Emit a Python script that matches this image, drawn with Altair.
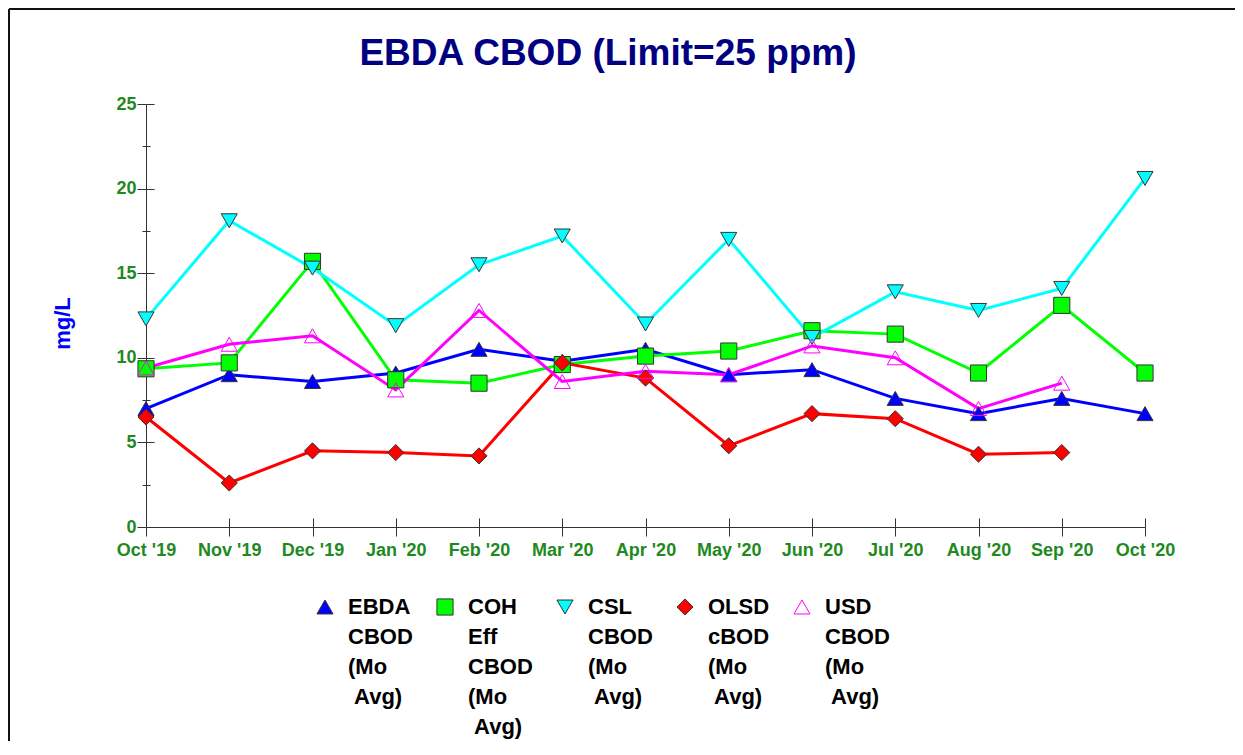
import altair as alt
import pandas as pd

# ---------------- data ----------------
months = ["Oct '19", "Nov '19", "Dec '19", "Jan '20", "Feb '20", "Mar '20", "Apr '20",
          "May '20", "Jun '20", "Jul '20", "Aug '20", "Sep '20", "Oct '20"]

short_names = ["EBDA", "COH", "CSL", "OLSD", "USD"]
IND = "\u200b\u00a0"   # small indent kept before the last label line
series = ["EBDA|CBOD|(Mo|" + IND + "Avg)",
          "COH|Eff|CBOD|(Mo|" + IND + "Avg)",
          "CSL|CBOD|(Mo|" + IND + "Avg)",
          "OLSD|cBOD|(Mo|" + IND + "Avg)",
          "USD|CBOD|(Mo|" + IND + "Avg)"]

ebda = [7.0, 9.0, 8.6, 9.1, 10.5, 9.8, 10.5, 9.0, 9.3, 7.6, 6.7, 7.6, 6.7]
coh = [9.35, 9.7, 15.7, 8.7, 8.5, 9.6, 10.1, 10.4, 11.6, 11.4, 9.1, 13.1, 9.1]
csl = [12.3, 18.1, 15.3, 11.9, 15.5, 17.2, 12.0, 17.0, 11.2, 13.9, 12.8, 14.1, 20.6]
olsd = [6.5, 2.6, 4.5, 4.4, 4.2, 9.7, 8.8, 4.8, 6.7, 6.4, 4.3, 4.4, None]
usd = [9.4, 10.8, 11.3, 8.1, 12.8, 8.6, 9.2, 9.0, 10.7, 10.0, 7.0, 8.5, None]

line_colors = ["#0000FF", "#00FF00", "#00FFFF", "#FF0000", "#FF00FF"]
fill_colors = ["#0000FF", "#00FF00", "#00FFFF", "#FF0000", "transparent"]
stroke_colors = ["#333333", "#333333", "#333333", "#333333", "#FF00FF"]
shapes = ["triangle-up", "square", "triangle-down", "diamond", "triangle-up"]

title_text = "EBDA CBOD (Limit=25 ppm)"
y_title = "mg/L"
y_major = [0, 5, 10, 15, 20, 25]
y_major_inner = [5, 10, 15, 20, 25]
y_minor = [2.5, 7.5, 12.5, 17.5, 22.5]

rows = []
for k, s, vals in zip(short_names, series, [ebda, coh, csl, olsd, usd]):
    for i, (m, v) in enumerate(zip(months, vals)):
        if v is not None:
            rows.append({"key": k, "series": s, "month": m, "idx": i, "value": v})
df = pd.DataFrame(rows)

FONT = "Liberation Sans"
GREEN = "#1E8A1E"
LABEL_DY = -10   # shifts guide labels so the legend's first line sits beside its symbol

# ---------------- layout ----------------
W, H = 999, 423
PAD = {"left": 138, "top": 96, "right": 90, "bottom": 214}
CLIP_H = 320     # equal-height legend entries so all entries align at their first line

legend = alt.Legend(
    title=None, orient="none", legendX=168, legendY=503 - CLIP_H / 2,
    direction="horizontal", columns=5, columnPadding=21,
    labelExpr="split(datum.label, '|')",
    labelFont=FONT, labelFontSize=22, labelFontWeight="bold", labelColor="black",
    labelBaseline="top", labelOffset=12, labelLimit=300,
    symbolSize=260, symbolStrokeWidth=1, clipHeight=CLIP_H,
)

xscale = alt.Scale(type="point", domain=months, padding=0)
yscale = alt.Scale(domain=[0, 25], nice=False, zero=True)

x_axis_main = alt.Axis(title=None, labelColor=GREEN, labelFont=FONT, labelFontSize=18,
                       labelFontWeight="bold", labelAngle=0, labelPadding=5 - LABEL_DY,
                       labelFlush=False, labelOverlap=False,
                       tickSize=9, tickColor="#333333", domainColor="#333333", grid=False)
x_axis_inner = alt.Axis(title=None, labels=False, domain=False, tickSize=9, offset=-9,
                        tickColor="#333333", grid=False, orient="bottom")
y_axis_main = alt.Axis(values=y_major, title=y_title, titleColor="#0000FF", titleFont=FONT,
                       titleFontSize=22, titleFontWeight="bold", titlePadding=41,
                       titleY=219,
                       labelColor=GREEN, labelFont=FONT, labelFontSize=18,
                       labelFontWeight="bold", labelPadding=1, labelOffset=-LABEL_DY,
                       tickSize=9,
                       tickColor="#333333", domainColor="#333333", grid=False, orient="left")
y_axis_inner = alt.Axis(values=y_major_inner, title=None, labels=False, domain=False,
                        tickSize=8, offset=-8, tickColor="#333333", grid=False, orient="left")
y_axis_minor = alt.Axis(values=y_minor, title=None, labels=False, domain=False,
                        tickSize=8, offset=-4, tickColor="#333333", grid=False, orient="left")

base = alt.Chart(df)
line_color = alt.Color("key:N", scale=alt.Scale(domain=short_names, range=line_colors), legend=None)

lines_a = base.transform_filter(
    alt.FieldOneOfPredicate(field="key", oneOf=short_names[:4])
).mark_line(strokeWidth=3).encode(
    x=alt.X("month:N", scale=xscale, sort=months, axis=x_axis_main),
    y=alt.Y("value:Q", scale=yscale, axis=y_axis_main),
    color=line_color,
    order=alt.Order("idx:Q"),
)

lines_b = base.transform_filter(
    alt.FieldEqualPredicate(field="key", equal=short_names[4])
).mark_line(strokeWidth=3).encode(
    x=alt.X("month:N", scale=xscale, sort=months, axis=None),
    y=alt.Y("value:Q", scale=yscale, axis=y_axis_minor),
    color=line_color,
    order=alt.Order("idx:Q"),
)

points = base.mark_point(size=260, strokeWidth=1, opacity=1, filled=True).encode(
    x=alt.X("month:N", scale=xscale, sort=months, axis=x_axis_inner),
    y=alt.Y("value:Q", scale=yscale, axis=y_axis_inner),
    shape=alt.Shape("series:N", scale=alt.Scale(domain=series, range=shapes), legend=legend),
    fill=alt.Fill("series:N", scale=alt.Scale(domain=series, range=fill_colors), legend=legend),
    stroke=alt.Stroke("series:N", scale=alt.Scale(domain=series, range=stroke_colors), legend=legend),
)

one = pd.DataFrame({"t": [title_text]})
title = alt.Chart(one).mark_text(
    font=FONT, fontSize=37, fontWeight="bold", color="#000080",
    align="center", baseline="alphabetic",
).encode(text="t:N", x=alt.value(462), y=alt.value(-39.5))

frame_top = alt.Chart(one).mark_rule(color="#111111", strokeWidth=2).encode(
    x=alt.value(-137), x2=alt.value(W + PAD["right"]), y=alt.value(-95))
frame_left = alt.Chart(one).mark_rule(color="#111111", strokeWidth=2).encode(
    x=alt.value(-137), y=alt.value(-95), y2=alt.value(H + PAD["bottom"]))

chart = alt.layer(frame_top, frame_left, title, lines_a, lines_b, points).resolve_axis(
    x="independent", y="independent"
).properties(
    width=W, height=H, padding=PAD, autosize=alt.AutoSizeParams(type="none"),
    background="white",
).configure(
    style={"guide-label": {"lineHeight": 30, "dy": LABEL_DY}},
    view=alt.ViewConfig(stroke=None),
)

chart.save("out.html", embed_options={"renderer": "svg", "actions": False})
